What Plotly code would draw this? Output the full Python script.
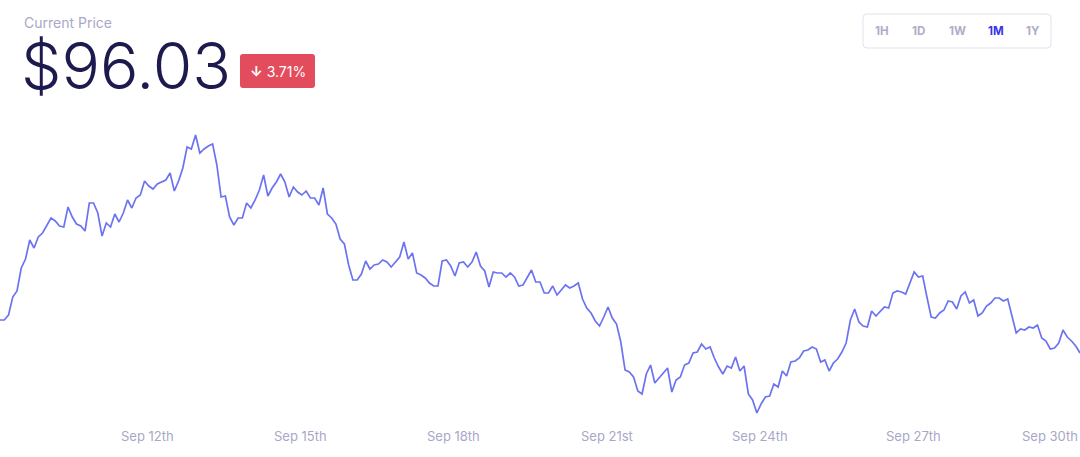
import pandas as pd
import plotly.graph_objects as go

# ---------------- data ----------------
start_time = "2020-09-09 02:30"
step = "2h"

prices_week1 = [
    99.33, 99.33, 99.83, 101.63, 102.23, 104.53, 105.43, 107.33, 106.53, 107.63,
    108.03, 108.73, 109.53, 109.23, 108.73, 108.63, 110.63, 109.63, 108.93, 108.73,
    108.23, 111.03, 111.03, 110.03, 107.73, 109.03, 108.63, 109.93, 109.13, 110.03,
    111.33, 110.53, 111.53, 111.83, 113.23, 112.73, 112.43, 112.93, 113.13, 113.33,
    114.03, 112.23,
    113.23, 114.53, 116.63, 116.43, 117.83, 116.03, 116.43, 116.73, 116.93, 114.83,
    111.63, 111.73, 109.63, 108.83, 109.53, 109.53, 111.03, 110.53, 111.33, 112.33,
    113.83, 111.73, 112.53, 113.13, 113.93, 113.13, 111.63, 112.63, 112.13, 111.83,
    112.23, 111.53, 111.53, 110.83, 112.53, 109.93, 109.53, 108.93, 107.43, 106.93,
    104.83, 103.33, 103.33,
]
prices_week2 = [
    103.93, 105.23, 104.43, 104.83, 104.93, 105.33, 105.13, 104.63, 105.13, 105.63,
    107.13, 105.43, 106.03, 104.03, 103.83, 103.53, 103.03, 102.73, 102.73, 105.23,
    105.33, 104.73, 103.73, 105.03, 105.13, 104.63, 105.13, 106.13, 104.73, 104.23,
    102.63, 104.13, 104.03, 104.03, 103.63, 104.03, 103.63, 102.73, 102.83, 103.63,
    104.33, 103.13, 103.13, 102.03, 102.03, 102.73, 101.83, 102.33, 102.83, 102.53,
    102.73, 103.03, 101.43, 100.53, 100.03, 99.23, 98.73, 99.63, 100.63, 99.53,
    98.93, 97.13, 94.33, 94.13, 93.63, 92.23, 91.93, 93.93, 94.83, 93.03,
    93.53, 94.03, 94.53, 92.13, 93.33, 93.63, 94.83, 95.03, 96.03, 96.13,
    96.93, 96.43, 96.63, 95.53,
]
prices_week3 = [
    94.63, 93.93, 94.73, 94.53, 95.63, 94.23, 94.73, 91.93, 91.33, 90.03,
    90.93, 91.63, 91.73, 92.93, 92.63, 94.23, 93.73, 95.13, 95.23, 95.53,
    96.23, 96.33, 96.63, 96.43, 95.13, 95.33, 94.23, 95.03, 95.43, 96.13,
    97.03, 99.33, 100.43, 99.13, 98.73, 98.63, 100.23, 99.73, 100.13, 100.63,
    100.53, 102.03, 102.23,
    102.13, 101.93, 103.03, 104.13, 103.63, 103.73, 101.63, 99.63, 99.53, 100.03,
    100.33, 101.23, 101.13, 100.43, 101.73, 102.13, 101.03, 101.33, 99.73, 100.03,
    100.73, 101.03, 101.53, 101.53, 101.23, 101.43, 99.73, 98.03, 98.43, 98.33,
    98.63, 98.53, 98.83, 97.53, 97.23, 96.43, 96.53, 97.03, 98.33, 97.63,
    97.23, 96.73, 96.03,
]
prices = prices_week1 + prices_week2 + prices_week3

tick_dates = ["2020-09-12", "2020-09-15", "2020-09-18", "2020-09-21",
              "2020-09-24", "2020-09-27", "2020-09-30"]
tick_labels = ["Sep 12th", "Sep 15th", "Sep 18th", "Sep 21st",
               "Sep 24th", "Sep 27th", "Sep 30th"]

title_label = "Current Price"
current_price = "$96.03"
change_text = "3.71%"
range_buttons = ["1H", "1D", "1W", "1M", "1Y"]
active_button = "1M"

# ---------------- layout helpers ----------------
W, H = 1080, 457
T, B = 110, 32


def px(x):
    return x / W


def py(y):
    return (H - B - y) / (H - T - B)


def rounded_rect(x0, y0, x1, y1, r):
    pts = [
        f"M {px(x0 + r)},{py(y0)}",
        f"L {px(x1 - r)},{py(y0)}",
        f"Q {px(x1)},{py(y0)} {px(x1)},{py(y0 + r)}",
        f"L {px(x1)},{py(y1 - r)}",
        f"Q {px(x1)},{py(y1)} {px(x1 - r)},{py(y1)}",
        f"L {px(x0 + r)},{py(y1)}",
        f"Q {px(x0)},{py(y1)} {px(x0)},{py(y1 - r)}",
        f"L {px(x0)},{py(y0 + r)}",
        f"Q {px(x0)},{py(y0)} {px(x0 + r)},{py(y0)}",
        "Z",
    ]
    return " ".join(pts)


times = pd.date_range(start_time, periods=len(prices), freq=step)

fig = go.Figure()
fig.add_trace(go.Scatter(
    x=times, y=prices, mode="lines",
    line=dict(color="#6c73f1", width=1.7),
    hoverinfo="skip",
))

label_color = "#a9a7c7"
annotations = []
for i, (d, t) in enumerate(zip(tick_dates, tick_labels)):
    last = i == len(tick_dates) - 1
    annotations.append(dict(
        x=times[-1] if last else d, xref="x",
        y=py(436), yref="paper",
        text=t, showarrow=False,
        xanchor="right" if last else "center", yanchor="middle",
        font=dict(family="Inter", size=13, color=label_color),
    ))

annotations.append(dict(
    x=px(22), y=py(22), xref="paper", yref="paper", text=title_label,
    showarrow=False, xanchor="left", yanchor="middle",
    font=dict(family="Inter", size=14, color="#aaa8c8"),
))
annotations.append(dict(
    x=px(19), y=py(65), xref="paper", yref="paper", text=current_price,
    showarrow=False, xanchor="left", yanchor="middle",
    font=dict(family="Inter", size=64, color="#1d1a4e", weight=300),
))
annotations.append(dict(
    x=px(278), y=py(71), xref="paper", yref="paper",
    text="<b>↓</b> " + change_text,
    showarrow=False, xanchor="center", yanchor="middle",
    font=dict(family="Inter", size=14, color="#ffffff"),
))

btn_x = [882, 918, 957, 996, 1033]
for b, bx in zip(range_buttons, btn_x):
    active = b == active_button
    annotations.append(dict(
        x=px(bx), y=py(31), xref="paper", yref="paper", text=f"<b>{b}</b>",
        showarrow=False, xanchor="center", yanchor="middle",
        font=dict(family="Inter", size=11.5,
                  color="#3a33e6" if active else "#aeadc9"),
    ))

shapes = [
    dict(type="path", xref="paper", yref="paper",
         path=rounded_rect(240, 54, 315, 88, 3),
         fillcolor="#e24c5c", line=dict(width=0), layer="above"),
    dict(type="path", xref="paper", yref="paper",
         path=rounded_rect(863, 14, 1051, 48, 4),
         fillcolor="rgba(0,0,0,0)", line=dict(color="#e2e1ec", width=1),
         layer="above"),
]

fig.update_layout(
    width=W, height=H,
    margin=dict(l=0, r=0, t=T, b=B, pad=0),
    paper_bgcolor="#ffffff", plot_bgcolor="#ffffff",
    showlegend=False,
    xaxis=dict(range=[times[0], times[-1]], showgrid=False, zeroline=False,
               showline=False, showticklabels=False, ticks=""),
    yaxis=dict(range=[88.83, 120.33], visible=False, fixedrange=True),
    annotations=annotations,
    shapes=shapes,
)

fig.write_html(
    "out.html",
    config={"displayModeBar": False},
    post_script="document.body.style.margin='0';document.body.style.overflow='hidden';",
)
